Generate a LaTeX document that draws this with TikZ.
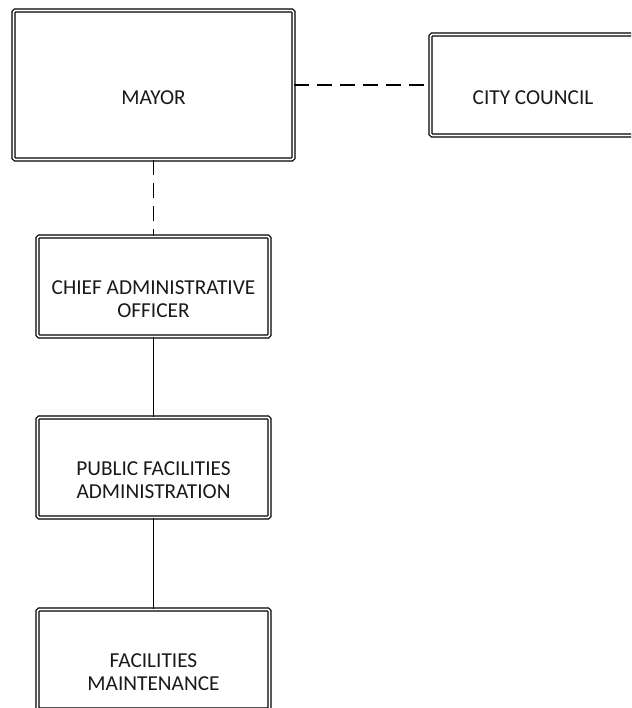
\documentclass[tikz,border=0pt]{standalone}
\usepackage{fontspec}
\setmainfont{Carlito}
\begin{document}
\begin{tikzpicture}[x=1pt,y=-1pt,
  txt/.style={font=\fontsize{21.3pt}{23pt}\selectfont, text=black!90, align=center},
  orgbox/.style={draw=black, line width=1.3pt, double=white, double distance=1.6pt,
    rounded corners=1.5pt, inner sep=0pt, minimum width=#1},
  boxtext/.style={label={[txt,yshift=-12.5pt]center:#1}},
  conn/.style={draw=black, line width=1.3pt},
  dconn/.style={conn, dash pattern=on 15pt off 8pt}]
\useasboundingbox (0,0) rectangle (631,708);
\clip (0,0) rectangle (631,708);
\node[orgbox=280pt, minimum height=149pt, boxtext={MAYOR}] (mayor) at (153.5,85) {};
\node[orgbox=205pt, minimum height=101pt, boxtext={CITY COUNCIL}] (council) at (533,85) {};
\node[orgbox=232pt, minimum height=100pt, boxtext={CHIEF ADMINISTRATIVE\\OFFICER}] (cao) at (153.5,286.5) {};
\node[orgbox=232pt, minimum height=100pt, boxtext={PUBLIC FACILITIES\\ADMINISTRATION}] (pfa) at (153.5,467.5) {};
\node[orgbox=232pt, minimum height=100pt, boxtext={FACILITIES\\MAINTENANCE}] (fm) at (153.5,659.5) {};
\draw[dconn] (mayor.east) -- (council.west);
\draw[dconn] (mayor.south) -- (cao.north);
\draw[conn] (cao.south) -- (pfa.north);
\draw[conn] (pfa.south) -- (fm.north);
\end{tikzpicture}
\end{document}
